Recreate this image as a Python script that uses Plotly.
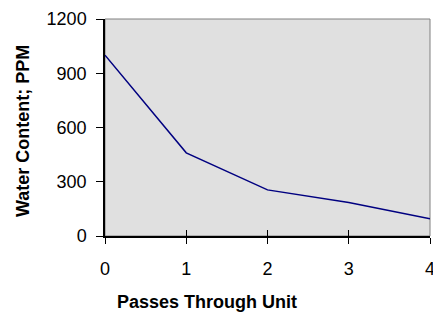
import plotly.graph_objects as go

passes = [0, 1, 2, 3, 4]
water_ppm = [1000, 460, 255, 185, 95]
y_ticks = [0, 300, 600, 900, 1200]
x_ticks = [0, 1, 2, 3, 4]

fig = go.Figure()
fig.add_trace(go.Scatter(x=passes, y=water_ppm, mode="lines",
                         line=dict(color="#000080", width=1.5), showlegend=False))
# invisible trace for overlay axis (inside ticks)
fig.add_trace(go.Scatter(x=passes, y=water_ppm, mode="lines", xaxis="x2",
                         line=dict(color="rgba(0,0,0,0)"), showlegend=False, hoverinfo="skip"))

font = dict(family="Liberation Sans, Arial, sans-serif", color="black")
fig.update_layout(
    width=433, height=314,
    margin=dict(l=105, r=3, t=19, b=78, autoexpand=False),
    paper_bgcolor="white", plot_bgcolor="#E0E0E0",
    font=font,
    xaxis=dict(range=[0, 4], tickvals=x_ticks, showgrid=False, zeroline=False,
               showline=True, linecolor="black", linewidth=1.5, automargin=False,
               ticks="outside", ticklen=6, tickcolor="black", tickwidth=1,
               ticklabelstandoff=10, ticklabeloverflow="allow",
               tickfont=dict(size=18, **font)),
    xaxis2=dict(range=[0, 4], tickvals=x_ticks, overlaying="x", side="bottom",
                showgrid=False, zeroline=False, showline=False, showticklabels=False,
                automargin=False,
                ticks="inside", ticklen=6, tickcolor="black", tickwidth=1),
    yaxis=dict(range=[0, 1200], tickvals=y_ticks, showgrid=False, zeroline=False,
               showline=True, linecolor="black", linewidth=1.5, automargin=False,
               ticks="outside", ticklen=7, tickcolor="black", tickwidth=1,
               ticklabelstandoff=6, ticklabeloverflow="allow",
               tickfont=dict(size=18, **font)),
    shapes=[dict(type="rect", xref="paper", yref="paper", x0=0, x1=1, y0=0, y1=1,
                 line=dict(color="#808080", width=1), layer="below")],
    annotations=[
        dict(text="<b>Passes Through Unit</b>", xref="paper", yref="paper",
             x=0.314, y=0, yshift=-66, xanchor="center", yanchor="middle",
             showarrow=False, font=dict(size=18, **font)),
        dict(text="<b>Water Content; PPM</b>", xref="paper", yref="paper",
             x=0, y=0.484, xshift=-82, xanchor="center", yanchor="middle",
             textangle=-90, showarrow=False, font=dict(size=18, **font)),
    ],
)
fig.write_html("out.html", config={"displayModeBar": False},
               post_script="document.body.style.margin='0';document.body.style.overflow='hidden';")
